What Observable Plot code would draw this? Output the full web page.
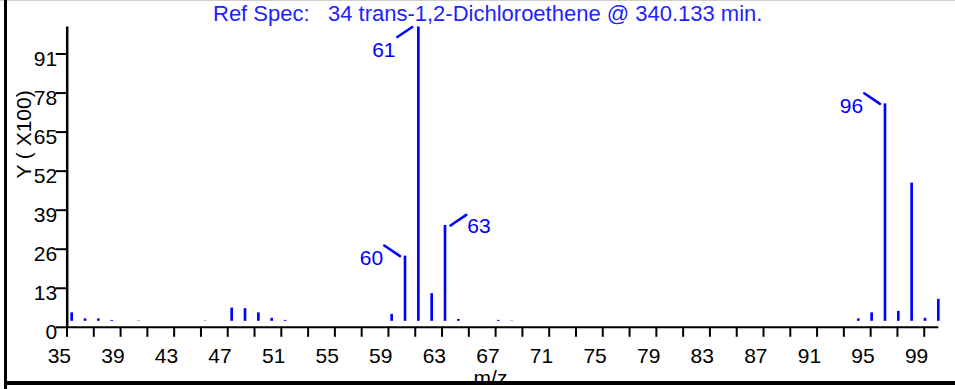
<!DOCTYPE html>
<html>
<head>
<meta charset="utf-8">
<script src="https://cdn.jsdelivr.net/npm/d3@7"></script>
<script src="https://cdn.jsdelivr.net/npm/@observablehq/plot@0.6"></script>
<style>
html, body { margin: 0; padding: 0; background: #fff; }
#wrap { position: relative; width: 955px; height: 389px; overflow: hidden; background: #fff; font-family: "Liberation Sans", Arial, sans-serif; }
#plot { position: absolute; left: 0; top: 0; }
#title { position: absolute; left: 213px; top: 1px; font-size: 22px; line-height: 26px; color: #1f1fff; white-space: pre; }
.edge { position: absolute; background: #000; }
#plot svg [aria-label^="x-axis"] line, #plot svg [aria-label^="x-axis"] path,
#plot svg [aria-label^="y-axis"] line, #plot svg [aria-label^="y-axis"] path { stroke-width: 2px; stroke: #000; }
#plot svg text.num { letter-spacing: 1px; }
</style>
</head>
<body>
<div id="wrap">
  <div id="plot"></div>
  <div id="title"></div>
  <div style="position:absolute;left:0;top:0;width:955px;height:1px;background:#cfcfcf"></div>
  <div class="edge" style="left:4px;top:0;width:3px;height:389px"></div>
  <div class="edge" style="left:4px;top:381px;width:951px;height:4px"></div>
</div>
<script>
// ---- data ----
const mz        = [35, 36, 37, 38, 40, 45, 47, 48, 49, 50, 51, 59, 60, 61, 62, 63, 64, 67, 68, 74, 94, 95, 96, 97, 98, 99, 100];
const intensity = [4.8, 2.8, 2.8, 2.3, 2.1, 2.1, 6.4, 6.2, 4.8, 3.0, 2.3, 4.3, 23.7, 100, 11.2, 33.9, 2.6, 2.3, 2.1, 2.0, 2.8, 4.8, 74.4, 5.3, 48.0, 3.0, 9.3];
const peakLabels = [60, 61, 63, 96];
const xTickLabels = ["35", "39", "43", "47", "51", "55", "59", "63", "67", "71", "75", "79", "83", "87", "91", "95", "99"];
const yTicks = [0, 13, 26, 39, 52, 65, 78, 91];
const titleText = "Ref Spec:   34 trans-1,2-Dichloroethene @ 340.133 min.";
const xLabel = "m/z";
const yLabel = "Y ( X100)";

// ---- build ----
const spec = mz.map((m, i) => ({mz: m, y: intensity[i]}));
const xDomain = [34.625, 100];
// minor ticks of the instrument axis (every 2 units, first at the axis origin)
const xTickValues = d3.range(33).map(k => 34.61 + 2.0093 * k);
const xLabelRows = xTickLabels.map((t, j) => ({x: xTickValues[2 * j], t}));

const blue = "#0000ff";
const lineShape = {draw(context, l) { context.moveTo(0, 0); context.lineTo(0, -l); }};
const placement = {60: "upLeft", 61: "downLeft", 63: "upRight", 96: "upLeft"};
const styles = {
  upLeft:   {lineDx: -5.5, rotate: -56,  len: 19, textDx: -34, textDy: 2},
  downLeft: {lineDx: -6.6, rotate: -124, len: 18, textDx: -35, textDy: 23},
  upRight:  {lineDx: 5,    rotate: 56,   len: 19, textDx: 33.5, textDy: 1}
};
const annotMarks = Object.entries(styles).flatMap(([key, st]) => {
  const rows = spec.filter(d => peakLabels.includes(d.mz) && placement[d.mz] === key);
  return [
    Plot.vector(rows, {x: "mz", y: "y", length: st.len, rotate: st.rotate, anchor: "start",
      shape: lineShape, stroke: blue, fill: "none", strokeWidth: 2.5, dx: st.lineDx}),
    Plot.text(rows, {x: "mz", y: "y", text: d => String(d.mz), dx: st.textDx, dy: st.textDy,
      fill: blue, fontSize: 21, textAnchor: "middle", lineAnchor: "middle", className: "num"})
  ];
});

document.getElementById("title").textContent = titleText;

const chart = Plot.plot({
  width: 955,
  height: 389,
  marginLeft: 66.7,
  marginRight: 16.7,
  marginTop: 26.5,
  marginBottom: 62.2,
  style: {fontFamily: "'Liberation Sans', Arial, sans-serif", fontSize: "20px", background: "transparent", color: "#000", overflow: "visible"},
  x: {domain: xDomain, ticks: xTickValues, tickSize: 10, tickFormat: () => "", label: null},
  y: {domain: [0, 100], ticks: yTicks, tickSize: 11, tickFormat: () => "", label: null},
  marks: [
    Plot.rect(spec, {x1: d => d.mz - 0.1, x2: d => d.mz + 0.1, y1: d => 0, y2: "y", insetBottom: 6, fill: blue}),
    Plot.ruleY([0], {stroke: "#000", strokeWidth: 2}),
    Plot.ruleX([xDomain[0]], {stroke: "#000", strokeWidth: 2.5}),
    Plot.text(xLabelRows, {x: "x", text: "t", frameAnchor: "bottom", textAnchor: "end", lineAnchor: "middle", dx: 4, dy: 29, fill: "#000", fontSize: 21, className: "num"}),
    Plot.text(yTicks, {y: d => d, text: d => String(d), frameAnchor: "left", textAnchor: "end", lineAnchor: "middle", dx: -10, dy: 5, fill: "#000", fontSize: 21, className: "num"}),
    Plot.text([yLabel], {text: d => d, frameAnchor: "left", rotate: -90, textAnchor: "middle", lineAnchor: "bottom", dx: -35.7, dy: -42.7, fill: "#000", fontSize: 21}),
    Plot.text([xLabel], {text: d => d, frameAnchor: "bottom", textAnchor: "middle", lineAnchor: "bottom", dx: -12.5, dy: 58, fill: "#000", fontSize: 21}),
    ...annotMarks
  ]
});
document.getElementById("plot").appendChild(chart);
</script>
</body>
</html>
